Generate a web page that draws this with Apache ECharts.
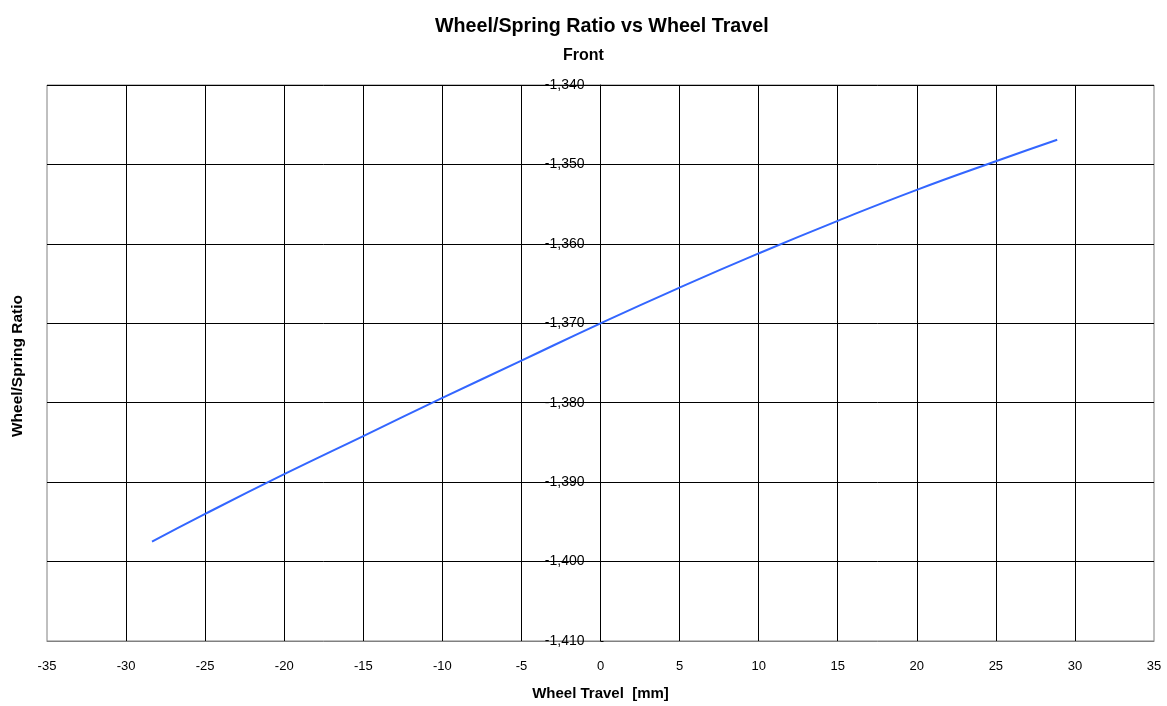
<!DOCTYPE html>
<html>
<head>
<meta charset="utf-8">
<script src="https://cdn.jsdelivr.net/npm/echarts@6/dist/echarts.min.js"></script>
<style>
  html, body { margin: 0; padding: 0; background: #fff; }
  #main { width: 1167px; height: 706px; }
</style>
</head>
<body>
<div id="main"></div>
<script>
// wheel travel [mm] and wheel/spring ratio
var travel = [-28.36, -25, -20, -15, -10, -5, 0, 5, 10, 15, 20, 25, 28.88];
var ratio = [-1.3975, -1.3940, -1.3890, -1.3842, -1.3794, -1.3747, -1.3700, -1.3655, -1.3612, -1.3571, -1.3532, -1.3496, -1.3469];

var pts = [];
for (var i = 0; i < travel.length; i++) pts.push([travel[i], ratio[i]]);

var myChart = echarts.init(document.getElementById('main'));
var font = 'Liberation Sans, Arial, sans-serif';

// y axis sits on x = 0, like the original sheet
var gridLeft = 47, gridRight = 13;
var plotW = 1167 - gridLeft - gridRight;
var zeroOffset = plotW * 35 / 70;

var option = {
  animation: false,
  textStyle: { fontFamily: font },
  title: [
    {
      text: 'Wheel/Spring Ratio vs Wheel Travel',
      left: 430, top: 12,
      textStyle: { fontFamily: font, fontSize: 19.7, fontWeight: 'bold', color: '#000' }
    },
    {
      text: 'Front',
      left: 558, top: 43,
      textStyle: { fontFamily: font, fontSize: 16, fontWeight: 'bold', color: '#000' }
    }
  ],
  grid: {
    left: gridLeft, right: gridRight, top: 85, bottom: 64,
    show: true, borderColor: '#808080', borderWidth: 1
  },
  xAxis: {
    type: 'value',
    min: -35, max: 35, interval: 5,
    name: 'Wheel Travel  [mm]',
    nameLocation: 'middle',
    nameGap: 45,
    nameTextStyle: { fontFamily: font, fontSize: 15, fontWeight: 'bold', color: '#000' },
    axisLine: { onZero: false, lineStyle: { color: '#808080' } },
    axisTick: { show: false },
    axisLabel: { color: '#000', fontSize: 13, margin: 19, fontFamily: font },
    splitLine: { show: true, showMinLine: false, showMaxLine: false, lineStyle: { color: '#000', width: 1 } }
  },
  yAxis: {
    type: 'value',
    min: -1.41, max: -1.34, interval: 0.01,
    offset: -zeroOffset,
    axisLine: { show: true, onZero: false, lineStyle: { color: '#000' } },
    axisTick: { show: true, inside: true, length: 3, lineStyle: { color: '#000' } },
    axisLabel: {
      color: '#000', fontSize: 14, margin: 16, fontFamily: font,
      formatter: function (v) { return v.toFixed(3).replace('.', ','); }
    },
    splitLine: { show: true, showMinLine: false, lineStyle: { color: '#000', width: 1 } }
  },
  graphic: [
    {
      type: 'text',
      left: 10, top: 295,
      rotation: Math.PI / 2,
      style: {
        text: 'Wheel/Spring Ratio',
        font: 'bold 15.5px ' + font,
        fill: '#000'
      }
    }
  ],
  series: [
    {
      type: 'line',
      data: pts,
      smooth: true,
      showSymbol: false,
      lineStyle: { color: '#3366ff', width: 2 }
    }
  ]
};
myChart.setOption(option);
window.addEventListener('resize', function () { myChart.resize(); });
</script>
</body>
</html>
